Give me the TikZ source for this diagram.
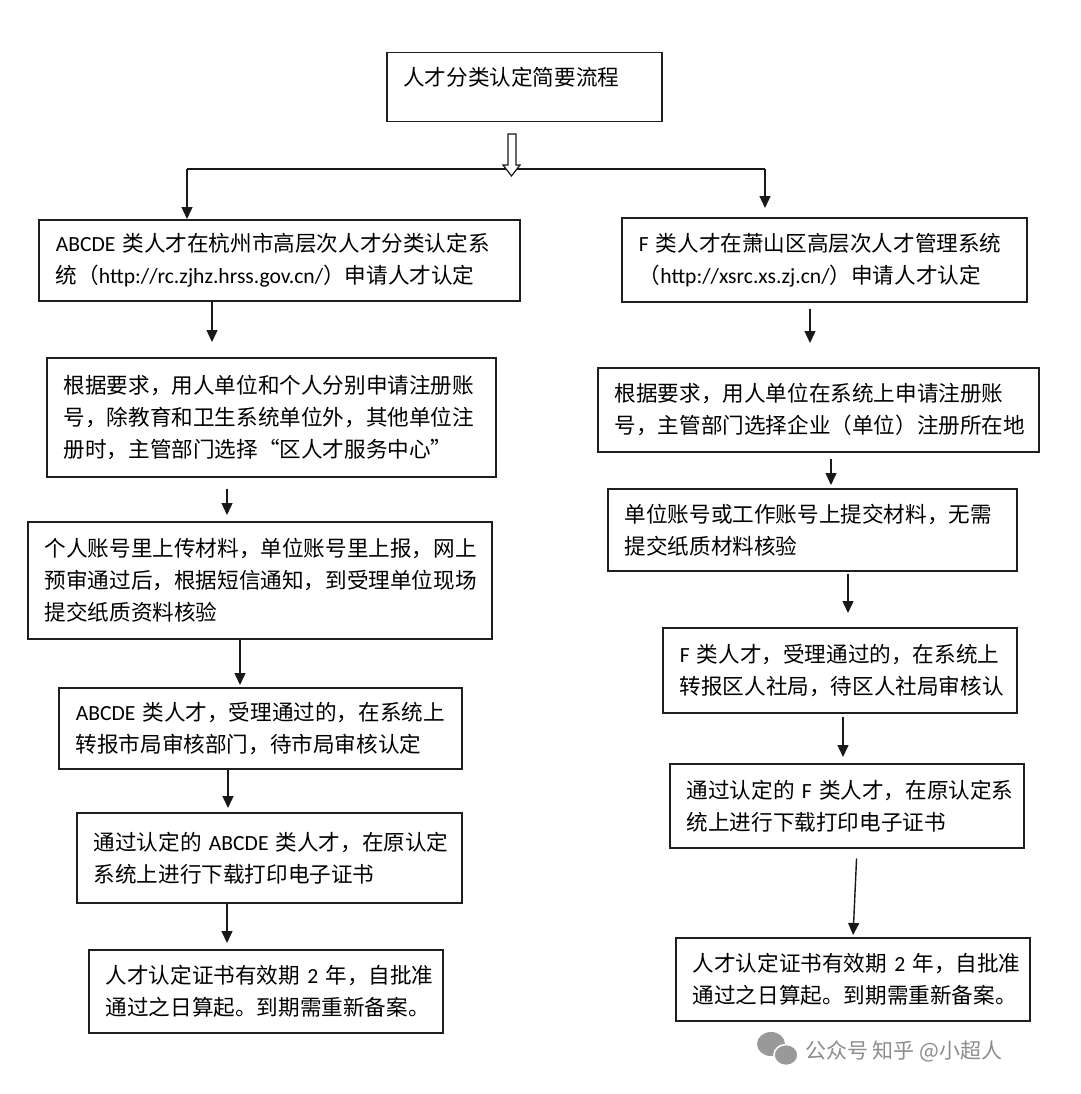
\documentclass[tikz,border=0pt]{standalone}
\usepackage{fontspec}
\setmainfont{Noto Sans CJK SC}
\newfontfamily\lat{Carlito}
\usetikzlibrary{arrows.meta}
\tikzset{
  box/.style={draw=black!88, line width=1.5pt, anchor=north west, align=left,
    inner xsep=17pt, inner ysep=0pt, font=\fontsize{21.6}{32}\selectfont},
  arr/.style={draw=black!90, line width=1.4pt, -{Triangle[length=12pt,width=11pt]}},
  ln/.style={draw=black!90, line width=1.4pt},
  wm/.style={text=black!45, font=\fontsize{21}{24}\selectfont, anchor=west, inner sep=0pt}
}
\newcommand{\bx}[6]{\pgfmathsetmacro\mytw{#4-34}\node[box, minimum width=#4pt, minimum height=#5pt, text width=\mytw pt] (#1) at (#2,#3) {#6};}
\begin{document}
\begin{tikzpicture}[x=1pt,y=-1pt]
\fill[white] (0,0) rectangle (1080,1094);
\useasboundingbox (0,0) rectangle (1080,1094);

% title
\node[draw=black!88, line width=1.5pt, anchor=north west, minimum width=275pt, minimum height=69pt, inner sep=0pt] (title) at (386,52) {};
\node[anchor=west, inner sep=0pt, font=\fontsize{21.6}{32}\selectfont] (titletext) at (403,77) {人才分类认定简要流程};

% left column
\bx{L1}{38}{219}{481}{81}{{\lat ABCDE}~类人才在杭州市高层次人才分类认定系\\统（{\lat http://rc.zjhz.hrss.gov.cn/}）申请人才认定}
\bx{L2}{46}{357}{449}{119}{根据要求，用人单位和个人分别申请注册账\\号，除教育和卫生系统单位外，其他单位注\\册时，主管部门选择“区人才服务中心”}
\bx{L3}{27}{521}{464}{117}{个人账号里上传材料，单位账号里上报，网上\\预审通过后，根据短信通知，到受理单位现场\\提交纸质资料核验}
\bx{L4}{58}{687}{403}{81}{{\lat ABCDE}~类人才，受理通过的，在系统上\\转报市局审核部门，待市局审核认定}
\bx{L5}{76}{812}{385}{90}{通过认定的~{\lat ABCDE}~类人才，在原认定\\系统上进行下载打印电子证书}
\bx{L6}{88}{949}{354}{83}{人才认定证书有效期~{\lat 2}~年，自批准\\通过之日算起。到期需重新备案。}

% right column
\bx{R1}{621}{217}{405}{84}{{\lat F}~类人才在萧山区高层次人才管理系统\\（{\lat http://xsrc.xs.zj.cn/}）申请人才认定}
\bx{R2}{597}{367}{441}{84}{根据要求，用人单位在系统上申请注册账\\号，主管部门选择企业（单位）注册所在地}
\bx{R3}{607}{488}{409}{82}{单位账号或工作账号上提交材料，无需\\提交纸质材料核验}
\bx{R4}{662}{627}{354}{85}{{\lat F}~类人才，受理通过的，在系统上\\转报区人社局，待区人社局审核认}
\bx{R5}{669}{763}{354}{84}{通过认定的~{\lat F}~类人才，在原认定系\\统上进行下载打印电子证书}
\bx{R6}{675}{937}{354}{83}{人才认定证书有效期~{\lat 2}~年，自批准\\通过之日算起。到期需重新备案。}

% split
\coordinate (jl) at (187,169);
\coordinate (jr) at (765,169);
\draw[ln] (jl) -- (jr);
\draw[arr] (jl) -- (jl |- L1.north);
\draw[arr, shorten >=9pt] (jr) -- (jr |- R1.north);
% hollow arrow from title
\draw[draw=black!90, line width=1.2pt, fill=white, line join=miter]
  (508,134) -- (508,165) -- (503,165) -- (511.5,176) -- (520,165) -- (516,165) -- (516,134) -- cycle;

% x positions of connectors
\coordinate (a1) at (212,0);
\coordinate (a2) at (227,0);
\coordinate (a3) at (240,0);
\coordinate (a4) at (228,0);
\coordinate (a5) at (227,0);
\coordinate (b1) at (810,0);
\coordinate (b2) at (831,0);
\coordinate (b3) at (848,0);
\coordinate (b4) at (843,0);
\coordinate (b5s) at (857,0);
\coordinate (b5e) at (853,0);

\draw[arr, shorten >=15pt] (L1.south -| a1) -- (L2.north -| a1);
\draw[arr, shorten <=11pt, shorten >=6pt] (L2.south -| a2) -- (L3.north -| a2);
\draw[arr, shorten >=2pt] (L3.south -| a3) -- (L4.north -| a3);
\draw[arr, shorten >=4pt] (L4.south -| a4) -- (L5.north -| a4);
\draw[arr, shorten >=6pt] (L5.south -| a5) -- (L6.north -| a5);

\draw[arr, shorten <=6pt, shorten >=24pt] (R1.south -| b1) -- (R2.north -| b1);
\draw[arr, shorten <=6pt, shorten >=3pt] (R2.south -| b2) -- (R3.north -| b2);
\draw[arr, shorten <=2pt, shorten >=14pt] (R3.south -| b3) -- (R4.north -| b3);
\draw[arr, shorten <=3pt, shorten >=6pt] (R4.south -| b4) -- (R5.north -| b4);
\draw[arr, shorten <=10pt, shorten >=2pt] (R5.south -| b5s) -- (R6.north -| b5e);

% watermark
\fill[black!40] (771,1044) ellipse [x radius=14pt, y radius=12pt];
\filldraw[fill=black!40, draw=white, line width=1.5pt] (786,1055) ellipse [x radius=12pt, y radius=10.5pt];
\node[wm] (wmtext) at (805,1051) {公众号 知乎 @小超人};
\end{tikzpicture}
\end{document}
